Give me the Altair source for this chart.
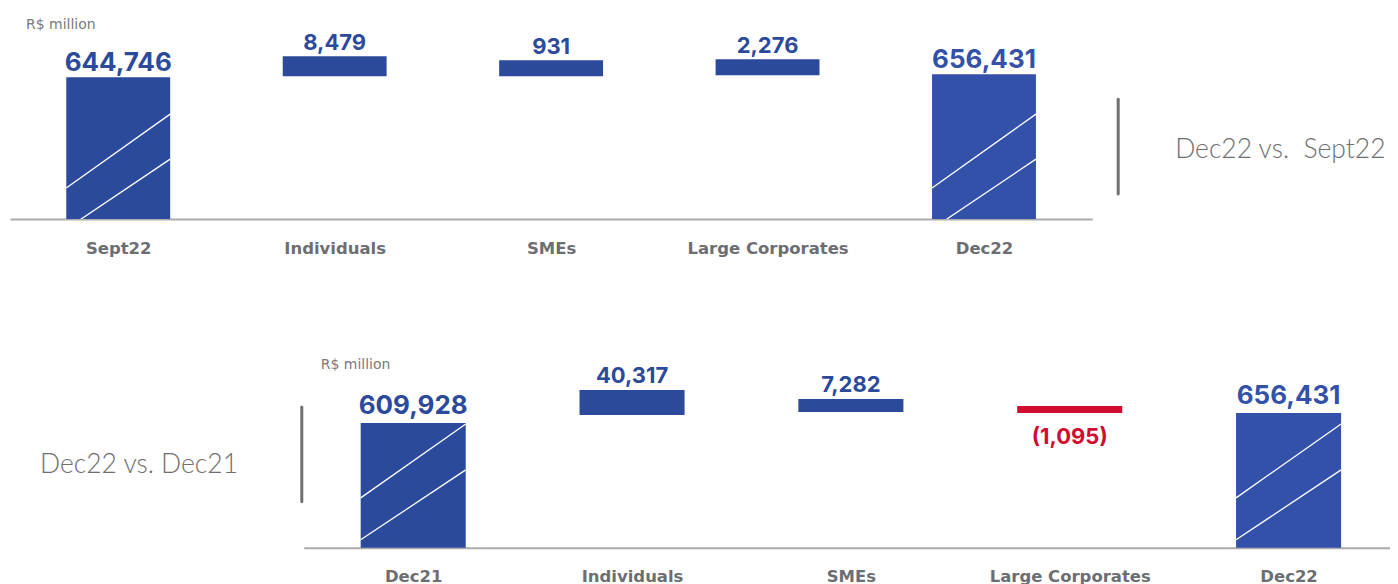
import altair as alt
import pandas as pd

# ---------------- data ----------------
top_categories = ["Sept22", "Individuals", "SMEs", "Large Corporates", "Dec22"]
top_values = [644746, 8479, 931, 2276, 656431]
top_labels = ["644,746", "8,479", "931", "2,276", "656,431"]
top_kind = ["start", "up", "up", "up", "end"]
# broken-axis display extents (units above baseline)
top_bar_base = [0, 143, 143, 144, 0]
top_bar_top = [142, 163, 159, 160, 145]

bot_categories = ["Dec21", "Individuals", "SMEs", "Large Corporates", "Dec22"]
bot_values = [609928, 40317, 7282, -1095, 656431]
bot_labels = ["609,928", "40,317", "7,282", "(1,095)", "656,431"]
bot_kind = ["start", "up", "up", "down", "end"]
bot_bar_base = [0, 133, 136, 135, 0]
bot_bar_top = [125, 158, 149, 142, 135]

top_title = "Dec22 vs.\u00a0\u00a0Sept22"
bot_title = "Dec22 vs. Dec21"
unit_label = "R$ million"

NUM_FONT = "Inter"
LAB_FONT = "DejaVu Sans"
SIDE_FONT = "Lato"
BLUE = "#2C4A9B"
BLUE_END = "#3351A9"
RED = "#D00C2F"
GRAY = "#6D6E71"

Y_MAX = 211


def frame(cats, vals, labels, kinds, base, top):
    n = len(cats)
    return pd.DataFrame({
        "idx": list(range(n)),
        "cat": cats,
        "value": vals,
        "label": labels,
        "kind": kinds,
        "base": base,
        "top": top,
        "x0": [i + 0.26 for i in range(n)],
        "x1": [i + 0.74 for i in range(n)],
        "xc": [i + 0.5 for i in range(n)],
    })


def hatch_frame(df, l1, r1, l2, r2):
    rows = []
    for _, r in df[df["kind"].isin(["start", "end"])].iterrows():
        rows.append({"x0": r["x0"], "x1": r["x1"], "yl": l1, "yr": r1})
        rows.append({"x0": r["x0"], "x1": r["x1"], "yl": l2, "yr": r2})
    return pd.DataFrame(rows)


def waterfall(df, hatch, cats, width, unit_x, unit_y, dy_total, dy_delta):
    n = len(cats)
    label_expr = "[" + ",".join("'%s'" % c for c in cats) + "][floor(datum.value)]"
    xscale = alt.Scale(domain=[0, n], nice=False, zero=False)
    yscale = alt.Scale(domain=[0, Y_MAX], nice=False, zero=False)
    color = alt.Color("kind:N", scale=alt.Scale(domain=["start", "up", "down", "end"],
                                                range=[BLUE, BLUE, RED, BLUE_END]), legend=None)
    base = alt.Chart(df)
    bars = base.mark_bar().encode(
        x=alt.X("x0:Q", scale=xscale, title=None,
                axis=alt.Axis(values=[i + 0.5 for i in range(n)], labelExpr=label_expr,
                              grid=False, ticks=False, domainColor="#ABABAB", domainWidth=2,
                              labelFont=LAB_FONT, labelFontWeight="bold", labelFontSize=16.5,
                              labelColor=GRAY, labelPadding=21, labelFlush=False)),
        x2="x1:Q",
        y=alt.Y("base:Q", scale=yscale, axis=None),
        y2="top:Q",
        color=color,
    )
    hatch_lines = alt.Chart(hatch).mark_rule(color="white", strokeWidth=1.3, clip=True).encode(
        x=alt.X("x0:Q", title=None), x2="x1:Q",
        y=alt.Y("yl:Q"), y2="yr:Q",
    )
    totals = base.transform_filter("datum.kind == 'start' || datum.kind == 'end'").mark_text(
        font=NUM_FONT, fontWeight="bold", fontSize=26, baseline="bottom", dy=dy_total
    ).encode(
        x=alt.X("xc:Q", title=None), y=alt.Y("top:Q"), text="label:N", color=color,
    )
    ups = base.transform_filter("datum.kind == 'up'").mark_text(
        font=NUM_FONT, fontWeight="bold", fontSize=22, baseline="bottom", dy=dy_delta
    ).encode(
        x=alt.X("xc:Q", title=None), y=alt.Y("top:Q"), text="label:N", color=color,
    )
    downs = base.transform_filter("datum.kind == 'down'").mark_text(
        font=NUM_FONT, fontWeight="bold", fontSize=22, baseline="top", dy=14
    ).encode(
        x=alt.X("xc:Q", title=None), y=alt.Y("base:Q"), text="label:N", color=color,
    )
    unit = alt.Chart(pd.DataFrame({"t": [unit_label]})).mark_text(
        font=LAB_FONT, fontSize=14, color="#7A7A7A", align="left", baseline="middle"
    ).encode(x=alt.value(unit_x), y=alt.value(unit_y), text="t:N")
    return alt.layer(bars, hatch_lines, totals, ups, downs, unit).properties(width=width, height=Y_MAX)


def side_panel(text, width, rule_x, rule_y1, rule_y2, text_x, text_y):
    d = pd.DataFrame({"t": [text]})
    rule = alt.Chart(d).mark_rule(color="#707070", strokeWidth=3, strokeCap="round").encode(
        x=alt.value(rule_x), y=alt.value(rule_y1), y2=alt.value(rule_y2))
    txt = alt.Chart(d).mark_text(font=SIDE_FONT, fontSize=26.5, fontWeight=300, color="#6F6F6F",
                                 align="left", baseline="middle").encode(
        x=alt.value(text_x), y=alt.value(text_y), text="t:N")
    return alt.layer(rule, txt).properties(width=width, height=Y_MAX)


top_df = frame(top_categories, top_values, top_labels, top_kind, top_bar_base, top_bar_top)
bot_df = frame(bot_categories, bot_values, bot_labels, bot_kind, bot_bar_base, bot_bar_top)
top_hatch = hatch_frame(top_df, 31, 105, -10, 60)
bot_hatch = hatch_frame(bot_df, 50, 124, 8, 78)

top_chart = waterfall(top_df, top_hatch, top_categories, 1083, 16, 17, -1, -1)
bot_chart = waterfall(bot_df, bot_hatch, bot_categories, 1095, 17, 28, -4, -2)

top_row = alt.hconcat(top_chart, side_panel(top_title, 289, 26, 91, 186, 83, 142), spacing=0)
bot_row = alt.hconcat(side_panel(bot_title, 293, 292, 70, 165, 30, 128), bot_chart, spacing=0)

chart = alt.vconcat(top_row, bot_row, spacing=80).properties(
    padding={"left": 2, "top": 0, "right": -8, "bottom": 0}
).configure_view(stroke=None).configure_concat(spacing=0)

chart.save("out.html", embed_options={"renderer": "svg", "actions": False})
